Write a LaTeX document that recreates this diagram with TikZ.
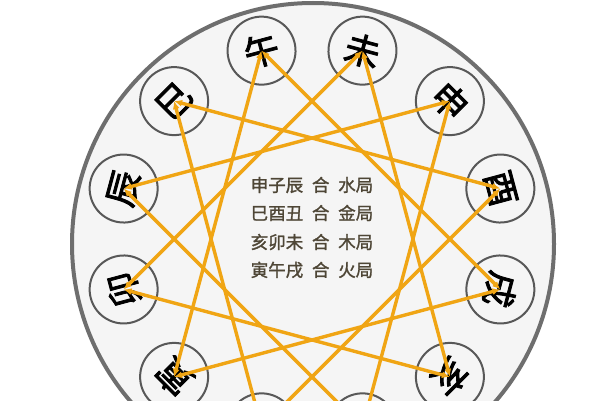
\documentclass[tikz,border=0pt]{standalone}
\usepackage{fontspec}
\newfontfamily\cjk{Noto Sans CJK SC}[FakeBold=2.5]
\newfontfamily\cjktext{Noto Sans CJK SC}[FakeBold=1.5]
\usetikzlibrary{arrows.meta}
\definecolor{rimgray}{HTML}{6E6E6E}
\definecolor{disc}{HTML}{F5F5F5}
\definecolor{stargold}{HTML}{F0A514}
\definecolor{textbrown}{HTML}{4E4636}
\tikzset{
  branch/.style={circle, draw=rimgray!80!black, line width=2pt, fill=disc,
    minimum size=68pt, inner sep=0pt, font=\cjk\fontsize{35}{35}\selectfont},
  combo/.style={draw=stargold, line width=3.4pt,
    {Latex[length=8pt,width=7pt]}-{Latex[length=8pt,width=7pt]}},
  rule/.style={text=textbrown, font=\cjktext\fontsize{17.5}{17.5}\selectfont}
}
\begin{document}
\begin{tikzpicture}[x=1pt,y=1pt]
  \clip (0,0) rectangle (600,400);
  \fill[white] (0,0) rectangle (600,400);
  \coordinate (C) at (312,161);
  \fill[disc, draw=rimgray, line width=4pt] (313,156) circle (241);
  % the twelve branches, 子 at -75 degrees, going clockwise
  \foreach \ch [count=\k from 0] in {子,丑,寅,卯,辰,巳,午,未,申,酉,戌,亥}{
    \pgfmathsetmacro\ang{-75-30*\k}
    \node[branch, rotate=\ang-90] (b\k) at ([shift={(\ang:195)}]C) {\ch};
  }
  % the four triangles
  \foreach \i/\j in {8/0,0/4,4/8,5/9,9/1,1/5,11/3,3/7,7/11,2/6,6/10,10/2}
    \draw[combo] (b\i.center) -- (b\j.center);
  \node[rule] (r1) at (312,215) {申子辰\enspace 合\enspace 水局};
  \node[rule] (r2) at (312,187) {巳酉丑\enspace 合\enspace 金局};
  \node[rule] (r3) at (312,158) {亥卯未\enspace 合\enspace 木局};
  \node[rule] (r4) at (312,130) {寅午戌\enspace 合\enspace 火局};
\end{tikzpicture}
\end{document}
